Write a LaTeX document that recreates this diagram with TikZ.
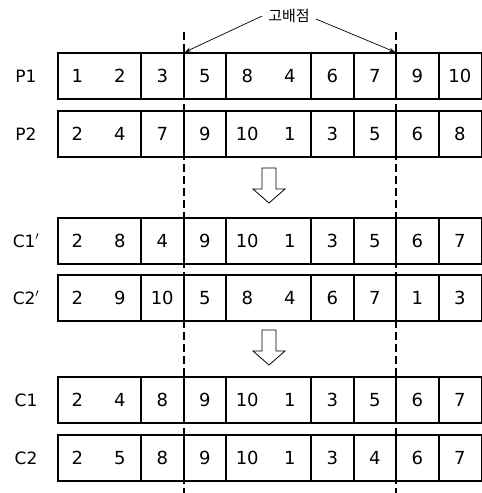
\documentclass[tikz,border=0pt]{standalone}
\usepackage{fontspec}
\setmainfont{DejaVu Sans}
\newfontfamily\krfont{Noto Sans CJK KR}
\usetikzlibrary{arrows.meta}
\begin{document}
\begin{tikzpicture}[x=1pt,y=-1pt,
  rowbox/.style={draw, line width=2pt},
  divline/.style={line width=2pt},
  num/.style={font=\fontsize{18}{18}\selectfont, inner sep=0pt, anchor=base},
  lab/.style={font=\fontsize{17}{17}\selectfont, inner sep=0pt, anchor=base},
  cutline/.style={line width=2pt, dash pattern=on 8pt off 4pt},
  blockarrow/.style={draw, line width=0.8pt, fill=white},
  pointer/.style={line width=0.7pt, -{Stealth[length=6pt,width=4pt]}}]
\useasboundingbox (0,0) rectangle (482,493);
% rows: name / label / top / numbers
\foreach \r/\lbl/\top/\nums in {
  p1/P1/52/{1,2,3,5,8,4,6,7,9,10},
  p2/P2/110/{2,4,7,9,10,1,3,5,6,8},
  ca/C1$'$/217/{2,8,4,9,10,1,3,5,6,7},
  cb/C2$'$/274/{2,9,10,5,8,4,6,7,1,3},
  c1/C1/376/{2,4,8,9,10,1,3,5,6,7},
  c2/C2/434/{2,5,8,9,10,1,3,4,6,7}} {
  \node[rowbox, minimum width=424pt, minimum height=46pt, anchor=north west, inner sep=0pt]
    (\r) at (57,\top) {};
  \foreach \i in {2,3,4,6,7,8,9}
    \draw[divline] ({56+42.5*\i},\top) -- ({56+42.5*\i},\top+47);
  \foreach \v [count=\k from 0] in \nums
    \node[num] (\r-\k) at ({56+42.5*\k+21.25},\top+30) {\v};
  \node[lab] (\r-lab) at (26,\top+30) {\lbl};
}
% crossover cut lines
\coordinate (cutLtop) at (184,32);
\coordinate (cutLbot) at (184,493);
\coordinate (cutRtop) at (396,32);
\coordinate (cutRbot) at (396,493);
\draw[cutline] (cutLtop) -- (cutLbot);
\draw[cutline] (cutRtop) -- (cutRbot);
% label and pointers
\node[font=\krfont\fontsize{15}{15}\selectfont, inner sep=1pt] (cp) at (289,16) {고배점};
\coordinate (cpL) at (185,52);
\coordinate (cpR) at (395,52);
\draw[pointer] (cp.west) ++(-5,0) -- (cpL);
\draw[pointer] (cp.east) ++(5,3) -- (cpR);
% block arrows
\foreach \a/\t in {arrA/168, arrB/330} {
  \draw[blockarrow] (262,\t) -- (276,\t) -- (276,\t+21) -- (285,\t+21) -- (269,\t+35)
    -- (253,\t+21) -- (262,\t+21) -- cycle;
}
\end{tikzpicture}
\end{document}
